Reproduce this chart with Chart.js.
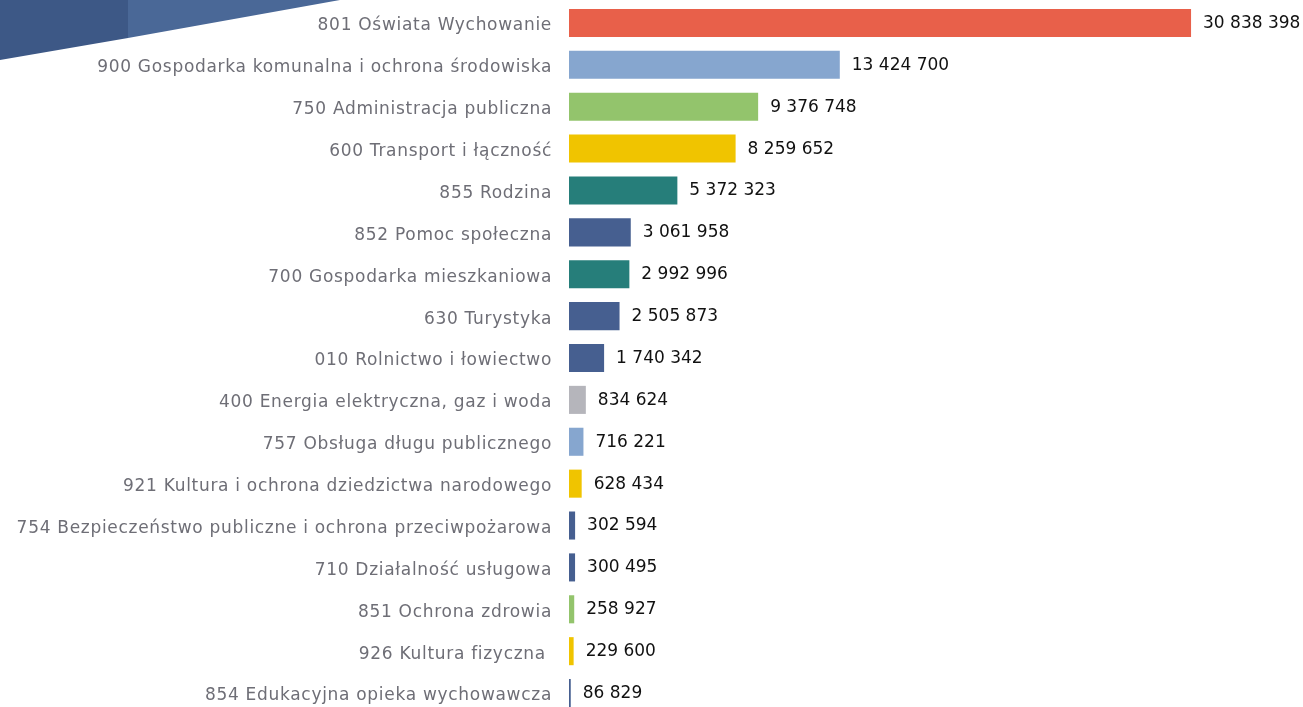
<!DOCTYPE html>
<html><head><meta charset="utf-8">
<script src="https://cdn.jsdelivr.net/npm/chart.js@4/dist/chart.umd.min.js"></script>
<style>
html,body{margin:0;padding:0;background:#fff;overflow:hidden;width:1303px;height:707px}
#wrap{position:absolute;left:0;top:0;width:1303px;height:714px}
</style></head>
<body><div id="wrap"><canvas id="c"></canvas></div>
<script>
const categories = [
  "801 Oświata Wychowanie",
  "900 Gospodarka komunalna i ochrona środowiska",
  "750 Administracja publiczna",
  "600 Transport i łączność",
  "855 Rodzina",
  "852 Pomoc społeczna",
  "700 Gospodarka mieszkaniowa",
  "630 Turystyka",
  "010 Rolnictwo i łowiectwo",
  "400 Energia elektryczna, gaz i woda",
  "757 Obsługa długu publicznego",
  "921 Kultura i ochrona dziedzictwa narodowego",
  "754 Bezpieczeństwo publiczne i ochrona przeciwpożarowa",
  "710 Działalność usługowa",
  "851 Ochrona zdrowia",
  "926 Kultura fizyczna ",
  "854 Edukacyjna opieka wychowawcza"
];
const values = [30838398, 13424700, 9376748, 8259652, 5372323, 3061958, 2992996, 2505873, 1740342, 834624, 716221, 628434, 302594, 300495, 258927, 229600, 86829];
const barColors = ["#E8604A","#86A6CF","#93C46C","#F0C400","#267E7A","#465F90","#267E7A","#465F90","#465F90","#B5B5BB","#86A6CF","#F0C400","#465F90","#465F90","#93C46C","#F0C400","#465F90"];

function fmt(v){ return String(v).replace(/\B(?=(\d{3})+(?!\d))/g, " "); }

const decoration = {
  id: 'decoration',
  beforeDraw(chart){
    const ctx = chart.ctx;
    ctx.save();
    ctx.fillStyle = '#3d5886';
    ctx.beginPath();
    ctx.moveTo(0,0); ctx.lineTo(128,0); ctx.lineTo(128,38); ctx.lineTo(0,60); ctx.closePath(); ctx.fill();
    ctx.fillStyle = '#4a6897';
    ctx.beginPath();
    ctx.moveTo(128,0); ctx.lineTo(340,0); ctx.lineTo(128,38); ctx.closePath(); ctx.fill();
    ctx.restore();
    ctx.letterSpacing = '0.7px';
  }
};

const valueLabels = {
  id: 'valueLabels',
  afterDatasetsDraw(chart){
    const ctx = chart.ctx;
    const meta = chart.getDatasetMeta(0);
    ctx.save();
    ctx.letterSpacing = '0px';
    ctx.font = '17px "DejaVu Sans", sans-serif';
    ctx.fillStyle = '#111111';
    ctx.textBaseline = 'middle';
    ctx.textAlign = 'left';
    meta.data.forEach((bar, i) => {
      ctx.fillText(fmt(values[i]), bar.x + 12, bar.y + 0.5);
    });
    ctx.restore();
  }
};

new Chart(document.getElementById('c'), {
  type: 'bar',
  data: {
    labels: categories,
    datasets: [{
      data: values,
      backgroundColor: barColors,
      borderWidth: 0,
      barPercentage: 0.67,
      categoryPercentage: 1.0
    }]
  },
  options: {
    indexAxis: 'y',
    responsive: true,
    maintainAspectRatio: false,
    animation: false,
    layout: { padding: { top: 2, bottom: 0, left: 0, right: 28 } },
    plugins: { legend: { display: false }, tooltip: { enabled: false } },
    scales: {
      x: { display: false, min: 0, max: 35000000 },
      y: {
        grid: { display: false, drawTicks: false },
        border: { display: false },
        afterFit(scale){ scale.width = 569; scale.paddingTop = 0; scale.paddingBottom = 0; },
        ticks: {
          color: '#6e6e76',
          padding: 17,
          labelOffset: 3,
          font: { family: '"DejaVu Sans", sans-serif', size: 17 }
        }
      }
    }
  },
  plugins: [decoration, valueLabels]
});
</script>
</body></html>
